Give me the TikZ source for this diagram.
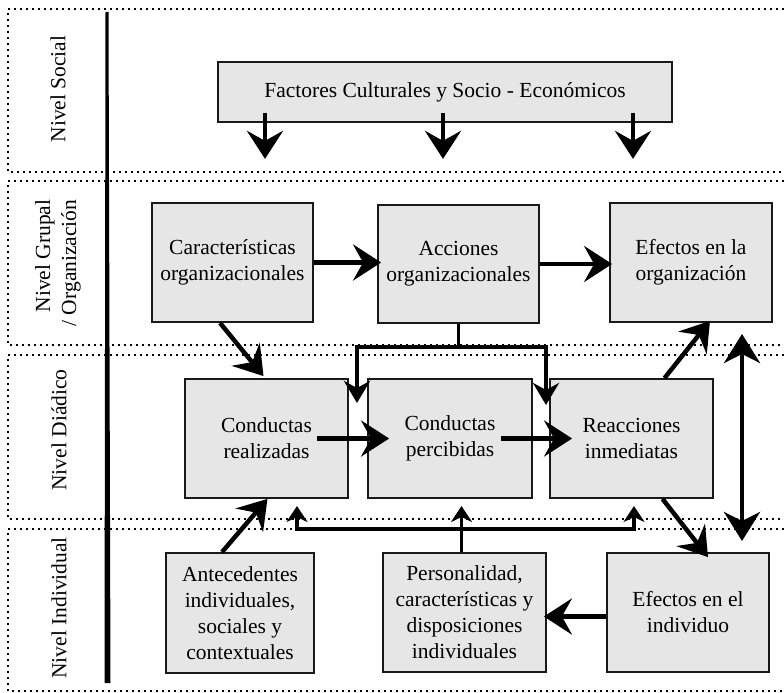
\documentclass[tikz,border=0pt]{standalone}
\usepackage{fontspec}
\setmainfont{Liberation Serif}
\usetikzlibrary{arrows.meta,calc}
\definecolor{boxgray}{RGB}{230,230,230}
\begin{document}
\begin{tikzpicture}[x=1pt,y=-1pt,
  box/.style={draw=black!90,line width=1.8pt,fill=boxgray,align=center,
    font=\fontsize{21.5}{26}\selectfont,inner sep=0pt},
  band/.style={line width=2pt,dash pattern=on 2pt off 4pt},
  bigar/.style={line width=4.5pt,-{Stealth[length=28pt,width=36pt,inset=10pt]}},
  medar/.style={line width=3.6pt,-{Stealth[length=22pt,width=26pt,inset=7pt]}},
  smallar/.style={line width=3.2pt,-{Stealth[length=16pt,width=21pt,inset=5pt]}},
  dblar/.style={line width=4.5pt,{Stealth[length=29pt,width=36pt,inset=9pt]}-{Stealth[length=29pt,width=36pt,inset=9pt]}},
  bus/.style={line width=3.6pt},
  lbl/.style={rotate=90,font=\fontsize{21.5}{26}\selectfont,inner sep=0pt}
]
\useasboundingbox (0,0) rectangle (784,693);

% bands
\draw[band] (784,9) -- (8,9) -- (8,172) -- (784,172);
\draw[band] (784,181) -- (8,181) -- (8,345) -- (784,345);
\draw[band] (784,355) -- (8,355) -- (8,519) -- (784,519);
\draw[band] (784,529) -- (8,529) -- (8,691) -- (784,691);

% thick vertical bar
\fill (105.5,12) -- (108.5,12) -- (110.5,683) -- (104.5,683) -- cycle;

% level labels
\node[lbl] (lsoc) at (58,89) {Nivel Social};
\node[lbl,align=right] (lgru) at (58,263) {Nivel Grupal\\/ Organización};
\node[lbl] (ldia) at (59,430) {Nivel Diádico};
\node[lbl] (lind) at (59,608) {Nivel Individual};

% boxes
\node[box,minimum width=454pt,minimum height=60pt] (fac) at (445,92) {Factores Culturales y Socio - Económicos};
\node[box,minimum width=161pt,minimum height=119pt] (car) at (232.5,262.5) {Características\\organizacionales};
\node[box,minimum width=161pt,minimum height=118pt] (acc) at (458.5,264) {Acciones\\organizacionales};
\node[box,minimum width=162pt,minimum height=119pt] (efo) at (691,262.5) {Efectos en la\\organización};
\node[box,minimum width=163pt,minimum height=119pt] (cre) at (266.5,438.5) {Conductas\\realizadas};
\node[box,minimum width=164pt,minimum height=119pt] (cpe) at (450,438.5) {Conductas\\percibidas};
\node[box,minimum width=163pt,minimum height=119pt] (rea) at (631.5,438.5) {Reacciones\\inmediatas};
\node[box,minimum width=148pt,minimum height=120pt] (ant) at (240,613) {Antecedentes\\individuales,\\sociales y\\contextuales};
\node[box,minimum width=163pt,minimum height=119pt] (per) at (464.5,612.5) {Personalidad,\\características y\\disposiciones\\individuales};
\node[box,minimum width=162pt,minimum height=119pt] (efi) at (688,612.5) {Efectos en el\\individuo};

% social arrows
\draw[bigar] ([xshift=-180pt,yshift=10pt]fac.south) -- ([xshift=-180pt,yshift=-36pt]fac.south);
\draw[bigar] ([xshift=-2pt,yshift=10pt]fac.south) -- ([xshift=-2pt,yshift=-36pt]fac.south);
\draw[bigar] ([xshift=188pt,yshift=10pt]fac.south) -- ([xshift=188pt,yshift=-36pt]fac.south);

% group level
\draw[bigar] (car.east) -- ([xshift=4pt]car.east -| acc.west);
\draw[bigar] (acc.east) -- ([xshift=3pt]acc.east -| efo.west);

% acciones bus
\coordinate (bl) at (357,347);
\coordinate (br) at (546,347);
\coordinate (blend) at (357,403);
\coordinate (brend) at (546,405);
\draw[bus] (acc.south) -- (acc.south |- bl);
\draw[bus] ([xshift=-1.8pt]bl) -- ([xshift=1.8pt]br);
\draw[medar] (bl) -- (blend);
\draw[medar] (br) -- (brend);

% diagonals
\draw[bigar] ([xshift=-12.5pt]car.south) -- ([xshift=-3pt,yshift=2pt]cre.north);
\draw[bigar] ([xshift=33pt]rea.north) -- ([xshift=19pt,yshift=2pt]efo.south);
\draw[bigar] ([xshift=31pt]rea.south) -- ([xshift=20pt,yshift=-5pt]efi.north);
\draw[bigar] ([xshift=-18pt]ant.north) -- ([xshift=1pt]cre.south);

% dyadic horizontals
\draw[bigar] ([xshift=-32pt]cre.east) -- ([xshift=22pt]cpe.west);
\draw[bigar] ([xshift=-32pt]cpe.east) -- ([xshift=23pt]rea.west);

% double arrow
\coordinate (dt) at (742,334);
\coordinate (db) at (742,541);
\draw[dblar] (db) -- (dt);

% individual
\draw[bigar] ([yshift=-4pt]efi.west) -- ([yshift=-4pt,xshift=-3pt]per.east);

% lower bus
\coordinate (ul) at (297,529);
\coordinate (ur) at (634,529);
\coordinate (um) at ([xshift=-3pt]per.north |- ul);
\coordinate (ulend) at (297,506);
\coordinate (urend) at (634,506);
\coordinate (umend) at ([xshift=-3pt]per.north |- ulend);
\draw[bus] ([xshift=-3pt]per.north) -- (um);
\draw[bus] ([xshift=-1.8pt]ul) -- ([xshift=1.8pt]ur);
\draw[smallar] (ul) -- (ulend);
\draw[smallar] (um) -- (umend);
\draw[smallar] (ur) -- (urend);
\end{tikzpicture}
\end{document}
